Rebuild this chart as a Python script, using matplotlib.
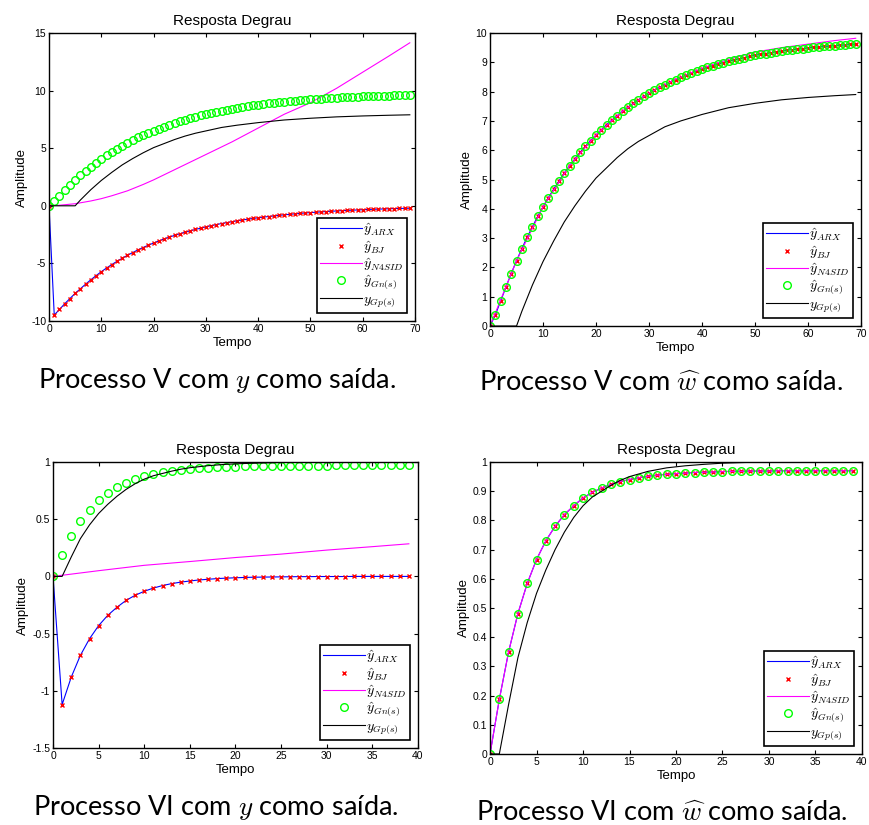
import numpy as np
import matplotlib
matplotlib.use("Agg")
import matplotlib.pyplot as plt
from matplotlib.ticker import FuncFormatter

plt.rcParams['font.family'] = ['Liberation Sans', 'DejaVu Sans']
plt.rcParams['mathtext.fontset'] = 'cm'
plt.rcParams['axes.unicode_minus'] = False

# ---- Processo V (t = 0..69) ----
t_v = list(range(70))

arx_v_y = [0, -9.48, -9.0, -8.5, -8.05, -7.6, -7.2, -6.8, -6.42, -6.06,
           -5.72, -5.4, -5.1, -4.82, -4.55, -4.3, -4.06, -3.83, -3.62, -3.42,
           -3.23, -3.05, -2.88, -2.72, -2.57, -2.43, -2.3, -2.17, -2.05, -1.94,
           -1.83, -1.73, -1.63, -1.54, -1.46, -1.38, -1.3, -1.23, -1.16, -1.1,
           -1.04, -0.98, -0.93, -0.88, -0.83, -0.78, -0.74, -0.7, -0.66, -0.62,
           -0.59, -0.56, -0.53, -0.5, -0.47, -0.45, -0.42, -0.4, -0.38, -0.36,
           -0.34, -0.32, -0.3, -0.29, -0.27, -0.26, -0.24, -0.23, -0.22, -0.21]
bj_v_y = arx_v_y

t_n4_v_y = [0, 2, 5, 8, 10, 12, 15, 18, 20, 25, 30, 35, 40, 45, 50, 55, 60, 65, 69]
n4sid_v_y = [0, 0.05, 0.18, 0.42, 0.62, 0.87, 1.3, 1.85, 2.25, 3.35, 4.45,
             5.55, 6.75, 7.95, 8.95, 10.2, 11.6, 13.0, 14.15]

gn_v = [0, 0.38, 0.85, 1.33, 1.79, 2.23, 2.64, 3.03, 3.39, 3.74,
        4.07, 4.38, 4.67, 4.95, 5.22, 5.47, 5.7, 5.93, 6.13, 6.33,
        6.52, 6.7, 6.87, 7.03, 7.18, 7.33, 7.47, 7.6, 7.72, 7.84,
        7.95, 8.05, 8.15, 8.24, 8.33, 8.41, 8.49, 8.57, 8.64, 8.71,
        8.77, 8.83, 8.89, 8.94, 8.99, 9.04, 9.08, 9.12, 9.16, 9.2,
        9.24, 9.27, 9.3, 9.33, 9.36, 9.38, 9.41, 9.43, 9.45, 9.47,
        9.49, 9.51, 9.52, 9.54, 9.55, 9.57, 9.58, 9.59, 9.61, 9.62]

t_gp_v = [0, 5, 6, 7, 8, 9, 10, 12, 14, 16, 18, 20, 22, 24, 26, 28, 30, 33,
          36, 40, 45, 50, 55, 60, 65, 69]
gp_v = [0, 0, 0.5, 0.95, 1.4, 1.8, 2.2, 2.9, 3.55, 4.1, 4.6, 5.05, 5.4, 5.75,
        6.05, 6.3, 6.5, 6.8, 7.0, 7.22, 7.45, 7.6, 7.72, 7.8, 7.86, 7.9]

arx_v_w = gn_v
bj_v_w = gn_v
t_n4_v_w = [0, 5, 10, 15, 20, 25, 30, 35, 40, 45, 50, 55, 60, 65, 69]
n4sid_v_w = [0, 2.23, 4.07, 5.47, 6.52, 7.33, 7.95, 8.42, 8.8, 9.1, 9.35,
             9.5, 9.62, 9.74, 9.82]

# ---- Processo VI (t = 0..39) ----
t_vi = list(range(40))

arx_vi_y = [0, -1.12, -0.88, -0.69, -0.545, -0.43, -0.34, -0.27, -0.21, -0.165,
            -0.13, -0.102, -0.08, -0.063, -0.05, -0.04, -0.031, -0.025, -0.019, -0.015,
            -0.012, -0.009, -0.007, -0.006, -0.005, -0.004, -0.003, -0.002, -0.002, -0.001,
            -0.001, -0.001, -0.001, 0, 0, 0, 0, 0, 0, 0]
bj_vi_y = arx_vi_y

t_n4_vi_y = [0, 5, 10, 15, 20, 25, 30, 35, 39]
n4sid_vi_y = [0, 0.05, 0.097, 0.13, 0.165, 0.195, 0.23, 0.26, 0.285]

gn_vi = [0, 0.187, 0.35, 0.481, 0.584, 0.666, 0.73, 0.78, 0.82, 0.85,
         0.877, 0.896, 0.911, 0.923, 0.933, 0.94, 0.946, 0.951, 0.955, 0.958,
         0.96, 0.962, 0.964, 0.965, 0.966, 0.967, 0.968, 0.968, 0.969, 0.969,
         0.969, 0.97, 0.97, 0.97, 0.97, 0.97, 0.97, 0.97, 0.97, 0.97]

t_gp_vi = [0, 1, 2, 3, 4, 5, 6, 7, 8, 9, 10, 11, 12, 13, 14, 15, 17, 19, 21,
           23, 25, 28, 32, 39]
gp_vi = [0, 0, 0.17, 0.33, 0.45, 0.55, 0.63, 0.7, 0.76, 0.81, 0.85, 0.88, 0.9,
         0.92, 0.937, 0.95, 0.968, 0.98, 0.987, 0.992, 0.996, 0.999, 1.0, 1.0]

arx_vi_w = gn_vi
bj_vi_w = gn_vi
n4sid_vi_w = gn_vi

labels = [r'$\hat{y}_{ARX}$', r'$\hat{y}_{BJ}$', r'$\hat{y}_{N4SID}$',
          r'$\hat{y}_{Gn(s)}$', r'$y_{Gp(s)}$']

captions = [r'Processo V com $y$ como saída.',
            r'Processo V com $\widehat{w}$ como saída.',
            r'Processo VI com $y$ como saída.',
            r'Processo VI com $\widehat{w}$ como saída.']

fig = plt.figure(figsize=(8.69, 8.25), dpi=100)

axes_pos = [[0.0564, 0.6109, 0.4212, 0.3491],
            [0.5639, 0.6048, 0.4269, 0.3552],
            [0.0610, 0.0933, 0.4200, 0.3467],
            [0.5639, 0.0861, 0.4280, 0.3539]]

panels = [
    (t_v, arx_v_y, bj_v_y, (t_n4_v_y, n4sid_v_y), gn_v, (t_gp_v, gp_v),
     (0, 70, 10), (-10, 15, 5)),
    (t_v, arx_v_w, bj_v_w, (t_n4_v_w, n4sid_v_w), gn_v, (t_gp_v, gp_v),
     (0, 70, 10), (0, 10, 1)),
    (t_vi, arx_vi_y, bj_vi_y, (t_n4_vi_y, n4sid_vi_y), gn_vi, (t_gp_vi, gp_vi),
     (0, 40, 5), (-1.5, 1, 0.5)),
    (t_vi, arx_vi_w, bj_vi_w, (t_vi, n4sid_vi_w), gn_vi, (t_gp_vi, gp_vi),
     (0, 40, 5), (0, 1, 0.1)),
]

cap_xy = [(217, 380), (661, 383), (216, 807), (662, 812)]

for i, (pos, p) in enumerate(zip(axes_pos, panels)):
    t, arx, bj, n4, gn, gp, xl, yl = p
    ax = fig.add_axes(pos)
    ax.plot(t, arx, color='blue', lw=0.8, label=labels[0])
    ax.plot(t, bj, ls='none', marker='x', color='red', ms=3.5, mew=1.0,
            label=labels[1])
    ax.plot(n4[0], n4[1], color='magenta', lw=0.8, label=labels[2])
    ax.plot(t, gn, ls='none', marker='o', mfc='none', mec=(0, 1, 0), ms=5.5,
            mew=1.0, label=labels[3])
    ax.plot(gp[0], gp[1], color='black', lw=0.8, label=labels[4])

    ax.set_xlim(xl[0], xl[1])
    ax.set_ylim(yl[0], yl[1])
    ax.set_xticks(np.arange(xl[0], xl[1] + 0.001, xl[2]))
    ax.set_yticks(np.arange(yl[0], yl[1] + 0.001, yl[2]))
    ax.yaxis.set_major_formatter(FuncFormatter(lambda v, _: '%g' % round(v, 3)))
    ax.tick_params(direction='in', top=True, right=True, length=3, width=0.8,
                   labelsize=7.5, pad=2)
    for s in ax.spines.values():
        s.set_linewidth(1.0)
    ax.set_title('Resposta Degrau', fontsize=11, pad=6)
    ax.set_xlabel('Tempo', fontsize=9.5, labelpad=2)
    ax.set_ylabel('Amplitude', fontsize=9.5, labelpad=2)

    leg = ax.legend(loc='lower right', fontsize=10, frameon=True, fancybox=False,
                    edgecolor='black', framealpha=1, handlelength=3.0,
                    handletextpad=0.1, labelspacing=0.05, borderpad=0.25,
                    borderaxespad=0.6)
    leg.get_frame().set_linewidth(1.2)

    fig.text(cap_xy[i][0] / 869, 1 - cap_xy[i][1] / 825, captions[i],
             ha='center', va='center', fontsize=19.5, family=['Lato', 'DejaVu Sans'])

fig.savefig('out.png', dpi=100)
